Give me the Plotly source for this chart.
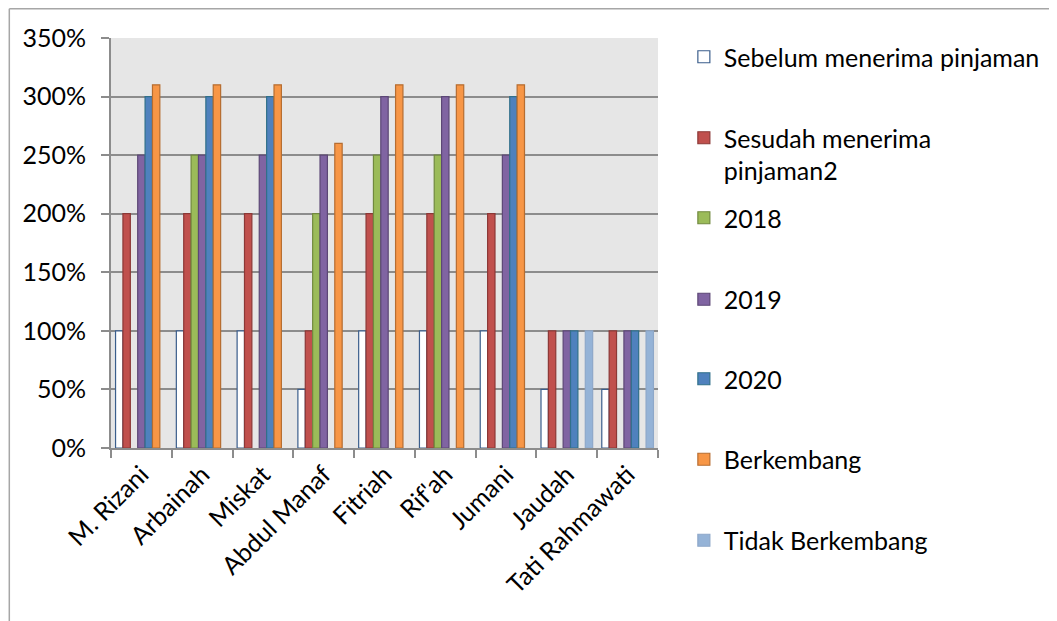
import plotly.graph_objects as go

# ---------------- data ----------------
categories = ["M. Rizani", "Arbainah", "Miskat", "Abdul Manaf", "Fitriah",
              "Rif'ah", "Jumani", "Jaudah", "Tati Rahmawati"]

sebelum = [100, 100, 100, 50, 100, 100, 100, 50, 50]
sesudah = [200, 200, 200, 100, 200, 200, 200, 100, 100]
tahun_2018 = [None, 250, None, 200, 250, 250, None, None, None]
tahun_2019 = [250, 250, 250, 250, 300, 300, 250, 100, 100]
tahun_2020 = [300, 300, 300, None, None, None, 300, 100, 100]
berkembang = [310, 310, 310, 260, 310, 310, 310, None, None]
tidak_berkembang = [None, None, None, None, None, None, None, 100, 100]

series_names = ["Sebelum menerima pinjaman", "Sesudah menerima<br>pinjaman2",
                "2018", "2019", "2020", "Berkembang", "Tidak Berkembang"]
series_values = [sebelum, sesudah, tahun_2018, tahun_2019, tahun_2020,
                 berkembang, tidak_berkembang]

y_ticks = [0, 50, 100, 150, 200, 250, 300, 350]
y_tick_labels = ["0%", "50%", "100%", "150%", "200%", "250%", "300%", "350%"]

# ---------------- styles ----------------
fills = ["#FFFFFF", "#C0504D", "#9BBB59", "#8064A2", "#4F81BD", "#F79646", "#95B3D7"]
edges = ["#3B5E8C", "#8C3836", "#71893F", "#5C4776", "#31708A", "#B66D31", "#8EA8C9"]

FONT = "Lato"
FS = 25

# the page body adds an 8px offset; figure coordinates = screen - 8
OFF = 8
W, H = 1057 - OFF, 621 - OFF
L, R, T, B = 111 - OFF, 661 - OFF, 38 - OFF, 448 - OFF  # plot area (figure px)


def px_x(px):
    return (px - OFF - L) / (R - L)


def px_y(py):
    return (B - (py - OFF)) / (B - T)


fig = go.Figure()
legend_centers = [59, 140, 220, 301.5, 381, 461.5, 542.5]  # screen px
for i, (name, vals) in enumerate(zip(series_names, series_values)):
    lg = "legend" if i == 0 else f"legend{i + 1}"
    fig.add_trace(go.Bar(
        x=categories, y=vals, name=name,
        marker=dict(color=fills[i], line=dict(color=edges[i], width=1.2)),
        legend=lg,
    ))

layout_legends = {}
for i, c in enumerate(legend_centers):
    lg = "legend" if i == 0 else f"legend{i + 1}"
    layout_legends[lg] = dict(
        x=px_x(687), xanchor="left",
        y=px_y(c - 25), yanchor="top",
        valign="top",
        bgcolor="rgba(0,0,0,0)",
        font=dict(family=FONT, size=FS, color="#000000"),
    )

fig.update_layout(
    width=W, height=H,
    margin=dict(l=L, r=W - R, t=T, b=H - B, pad=0),
    paper_bgcolor="#FFFFFF",
    plot_bgcolor="#E6E6E6",
    barmode="group",
    bargap=0.15,
    bargroupgap=0,
    showlegend=True,
    font=dict(family=FONT, size=FS, color="#000000"),
    xaxis=dict(
        type="category",
        showgrid=False,
        showline=True, linecolor="#8C8C8C", linewidth=2,
        ticks="outside", tickson="boundaries", ticklen=8, tickwidth=2,
        tickcolor="#8C8C8C",
        tickangle=-45,
        tickfont=dict(family=FONT, size=FS, color="#000000"),
        automargin=False,
        fixedrange=True,
    ),
    yaxis=dict(
        range=[0, 350],
        tickmode="array",
        tickvals=y_ticks,
        ticktext=y_tick_labels,
        showgrid=True, gridcolor="#8C8C8C", gridwidth=2,
        showline=True, linecolor="#8C8C8C", linewidth=2,
        ticks="outside", ticklen=8, tickwidth=2, tickcolor="#8C8C8C",
        ticklabelstandoff=10,
        zeroline=False,
        tickfont=dict(family=FONT, size=FS, color="#000000"),
        automargin=False,
        fixedrange=True,
    ),
    **layout_legends,
)

# outer chart frame (left and top edges visible in the crop)
frame_color = "#A6A6A6"
fig.add_shape(type="line", xref="paper", yref="paper",
              x0=px_x(8.75), x1=px_x(8.75), y0=px_y(8.75), y1=px_y(660),
              line=dict(color=frame_color, width=1.5))
fig.add_shape(type="line", xref="paper", yref="paper",
              x0=px_x(8.75), x1=px_x(1100), y0=px_y(8.75), y1=px_y(8.75),
              line=dict(color=frame_color, width=1.5))

fig.write_html("out.html")
